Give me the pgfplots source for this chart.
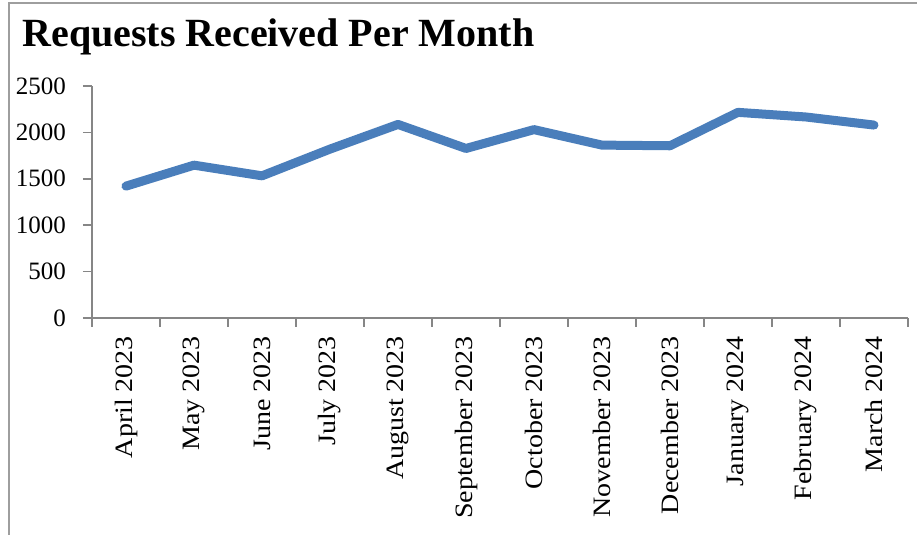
\documentclass[border=0pt]{standalone}
\usepackage{fontspec}
\setmainfont{Liberation Serif}
\newfontfamily\lblfont{Liberation Serif}[FakeStretch=1.12]
\usepackage{pgfplots}
\pgfplotsset{compat=1.18}
\definecolor{lineblue}{HTML}{4A7EBB}
\definecolor{axgray}{HTML}{868686}
\begin{document}
\begin{tikzpicture}
\useasboundingbox (-46pt,-108.5pt) rectangle (412.5pt,159pt);
\draw[axgray!80, line width=1pt] (-41.5pt,-108.5pt) -- (-41.5pt,157.5pt) -- (412.5pt,157.5pt);
\begin{axis}[
  at={(0,0)}, anchor=south west,
  scale only axis, width=408pt, height=116pt,
  xmin=-0.5, xmax=11.5, ymin=0, ymax=2500,
  axis lines*=left,
  axis line style={axgray, line width=0.8pt},
  every tick/.style={axgray, line width=0.8pt},
  tick align=outside,
  xtick={0,...,11},
  xticklabels={April 2023,May 2023,June 2023,July 2023,August 2023,September 2023,October 2023,November 2023,December 2023,January 2024,February 2024,March 2024},
  major x tick style={draw=none},
  minor xtick={-0.5,0.5,...,11.5},
  minor tick length=4.5pt,
  major tick length=4.5pt,
  ytick={0,500,...,2500},
  xticklabel style={rotate=90, anchor=east, font=\lblfont\fontsize{12.5}{14}\selectfont, xshift=-1pt},
  yticklabel style={font=\fontsize{12.5}{14}\selectfont, xshift=-5pt},
  /pgf/number format/assume math mode=true,
  /pgf/number format/1000 sep={},
  clip=false,
]
\addplot[lineblue, line width=4.5pt, line cap=round, line join=round] coordinates {
(0,1421) (1,1647) (2,1532) (3,1820) (4,2086) (5,1827)
(6,2030) (7,1863) (8,1856) (9,2216) (10,2166) (11,2079)
};
\end{axis}
\node[anchor=base west, font=\fontsize{20}{24}\selectfont\bfseries, inner sep=0pt] at (-35pt,135.6pt) {Requests Received Per Month};
\end{tikzpicture}
\end{document}
